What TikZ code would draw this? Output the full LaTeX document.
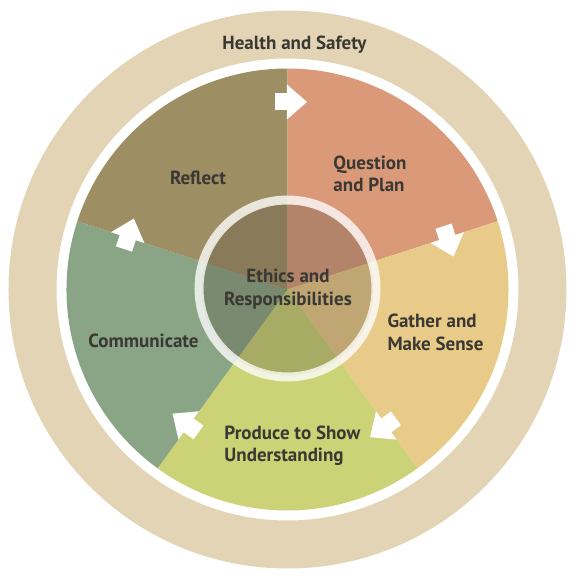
\documentclass[tikz,border=0pt]{standalone}
\usepackage{fontspec}
\setmainfont{PT Sans}
\definecolor{ringtan}{HTML}{E4D4B6}
\definecolor{reflect}{HTML}{9D8F63}
\definecolor{question}{HTML}{DA9A79}
\definecolor{gather}{HTML}{E8CB89}
\definecolor{produce}{HTML}{CCD276}
\definecolor{communicate}{HTML}{8AA486}
\definecolor{reflectin}{HTML}{897B59}
\definecolor{questionin}{HTML}{B3836A}
\definecolor{gatherin}{HTML}{BFA673}
\definecolor{producein}{HTML}{A8AB63}
\definecolor{communicatein}{HTML}{7A8A70}
\definecolor{labeltext}{HTML}{3A3833}
\tikzset{
  lbl/.style={text=labeltext, inner sep=0pt, align=left,
    font=\fontsize{19}{22.4}\selectfont\bfseries},
  cyclearrow/.pic={
    \fill[white] (-12,-8.5) rectangle (0.5,8.5);
    \fill[white] (0,-17.5) -- (20,0) -- (0,17.5) -- cycle;
  }
}
\begin{document}
\begin{tikzpicture}[x=1pt,y=1pt]
\useasboundingbox (-287.5,-286.5) rectangle (288.5,289.5);
% outer ring
\fill[ringtan, even odd rule] (0,0) circle[radius=279] (0,0) circle[radius=231];
% sectors
\fill[question] (0,0) -- (90:221) arc[start angle=90, end angle=18, radius=221] -- cycle;
\fill[gather] (0,0) -- (18:221) arc[start angle=18, end angle=-54, radius=221] -- cycle;
\fill[produce] (0,0) -- (-54:221) arc[start angle=-54, end angle=-126, radius=221] -- cycle;
\fill[communicate] (0,0) -- (-126:221) arc[start angle=-126, end angle=-198, radius=221] -- cycle;
\fill[reflect] (0,0) -- (162:221) arc[start angle=162, end angle=90, radius=221] -- cycle;
% inner darker sectors
\fill[questionin] (0,0) -- (90:86) arc[start angle=90, end angle=18, radius=86] -- cycle;
\fill[gatherin] (0,0) -- (18:86) arc[start angle=18, end angle=-54, radius=86] -- cycle;
\fill[producein] (0,0) -- (-54:86) arc[start angle=-54, end angle=-126, radius=86] -- cycle;
\fill[communicatein] (0,0) -- (-126:86) arc[start angle=-126, end angle=-198, radius=86] -- cycle;
\fill[reflectin] (0,0) -- (162:86) arc[start angle=162, end angle=90, radius=86] -- cycle;
% translucent ring
\fill[white, fill opacity=0.78, even odd rule] (0,1) circle[radius=93] (0,1) circle[radius=84];
% arrows
\path (-0.5,187.5) pic{cyclearrow};
\path (18:168) pic[rotate=-72]{cyclearrow};
\path (-54:168) pic[rotate=-144]{cyclearrow};
\path (-126:168) pic[rotate=144]{cyclearrow};
\path (162:168) pic[rotate=72]{cyclearrow};
% labels
\node[lbl, anchor=base] (hs) at (7,240.2) {Health and Safety};
\node[lbl, anchor=base] (rf) at (-89.5,105) {Reflect};
\node[lbl, anchor=base west] (qp) at (45.8,97.8) {Question\\and Plan};
\node[lbl, anchor=base, align=center] (er) at (0.5,-15.5) {Ethics and\\Responsibilities};
\node[lbl, anchor=base west] (gm) at (99.8,-60.5) {Gather and\\Make Sense};
\node[lbl, anchor=base] (cm) at (-144,-58) {Communicate};
\node[lbl, anchor=base west] (pu) at (-63.2,-172.2) {Produce to Show\\Understanding};
\end{tikzpicture}
\end{document}
